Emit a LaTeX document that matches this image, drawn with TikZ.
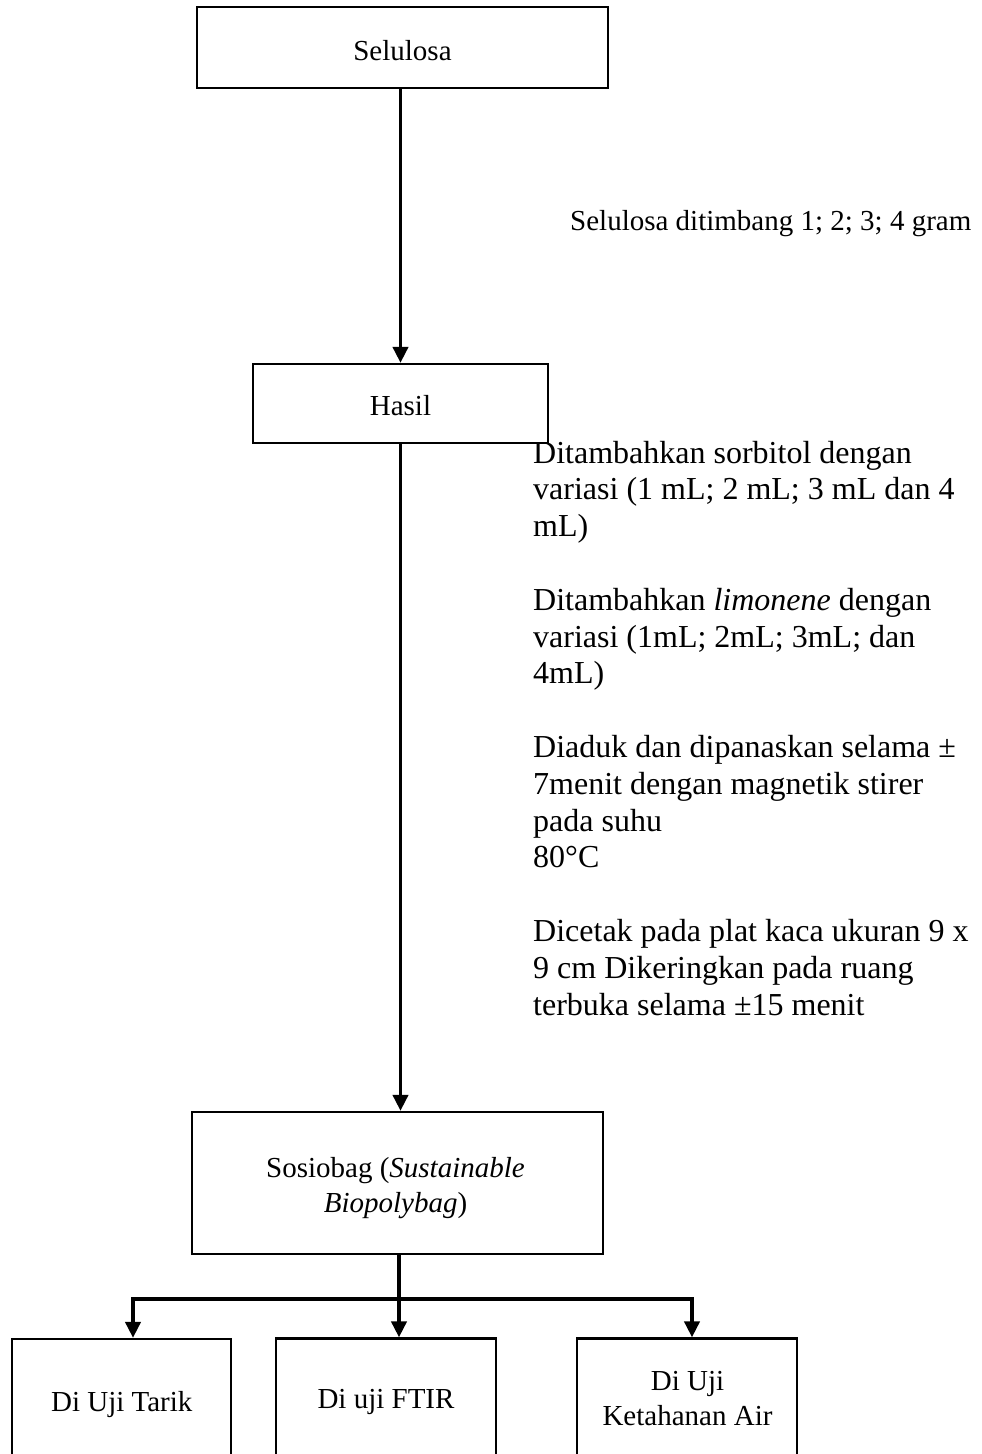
\documentclass[tikz,border=0pt]{standalone}
\usepackage{fontspec}
\setmainfont{Liberation Serif}
\usetikzlibrary{arrows.meta}
\begin{document}
\begin{tikzpicture}[x=1pt,y=-1pt,
  box/.style={draw=black, line width=2.2pt, rectangle, inner sep=0pt},
  conn/.style={line width=3.8pt},
  arr/.style={conn, -{Triangle[length=16pt,width=15pt]}},
  boxtxt/.style={inner sep=0pt, font=\fontsize{29}{34.5}\selectfont, align=center},
  note/.style={inner sep=0pt, font=\fontsize{32}{36.8}\selectfont, align=left},
]
\useasboundingbox (0,0) rectangle (982,1454);
\fill[white] (0,0) rectangle (982,1454);
\clip (0,0) rectangle (982,1454);

% boxes (multi-line text nodes are anchored at the baseline of their last line)
\node[box, minimum width=411pt, minimum height=81pt] (sel) at (402.5,47.5) {};
\node[boxtxt, anchor=base] (selt) at (402.5,60) {Selulosa};
\node[box, minimum width=295pt, minimum height=79pt] (has) at (400.5,403.5) {};
\node[boxtxt, anchor=base] (hast) at (400.5,415) {Hasil};
\node[box, minimum width=411pt, minimum height=142pt] (sos) at (397.5,1183) {};
\node[boxtxt, anchor=base] (sost) at (395.5,1212) {Sosiobag (\textit{Sustainable}\\\textit{Biopolybag})};

\node[box, minimum width=219pt, minimum height=151pt] (b1) at (121.75,1414.5) {};
\node[boxtxt, anchor=base] (b1t) at (121.75,1411) {Di Uji Tarik};
\node[box, minimum width=220pt, minimum height=151pt] (b2) at (386,1414) {};
\node[boxtxt, anchor=base] (b2t) at (386,1408) {Di uji FTIR};
\node[box, minimum width=220pt, minimum height=151pt] (b3) at (687,1414) {};
\node[boxtxt, anchor=base] (b3t) at (687.5,1425) {Di Uji\\Ketahanan Air};

% notes
\node[inner sep=0pt, font=\fontsize{29}{33}\selectfont, anchor=base west] (n0) at (570,230) {Selulosa ditimbang 1; 2; 3; 4 gram};
\node[note, anchor=base west] (n1) at (533,536.6) {Ditambahkan sorbitol dengan\\variasi (1 mL; 2 mL; 3 mL dan 4\\mL)};
\node[note, anchor=base west] (n2) at (533,683.8) {Ditambahkan \textit{limonene} dengan\\variasi (1mL; 2mL; 3mL; dan\\4mL)};
\node[note, anchor=base west] (n3) at (533,867.8) {Diaduk dan dipanaskan selama ±\\7menit dengan magnetik stirer\\pada suhu\\80°C};
\node[note, anchor=base west] (n4) at (533,1015) {Dicetak pada plat kaca ukuran 9 x\\9 cm Dikeringkan pada ruang\\terbuka selama ±15 menit};

% connectors
\draw[arr] (has.north |- sel.south) -- (has.north);
\draw[arr] (has.south) -- (has.south |- sos.north);
\coordinate (jm) at (399,1299);
\coordinate (jl) at (133,1299);
\coordinate (jr) at (692,1299);
\draw[conn] (sos.south -| jm) -- (jm);
\draw[arr] (jm) -- (jl) -- (jl |- b1.north);
\draw[arr] (jm) -- (jr) -- (jr |- b3.north);
\draw[arr] (jm) -- (jm |- b2.north);
\end{tikzpicture}
\end{document}
